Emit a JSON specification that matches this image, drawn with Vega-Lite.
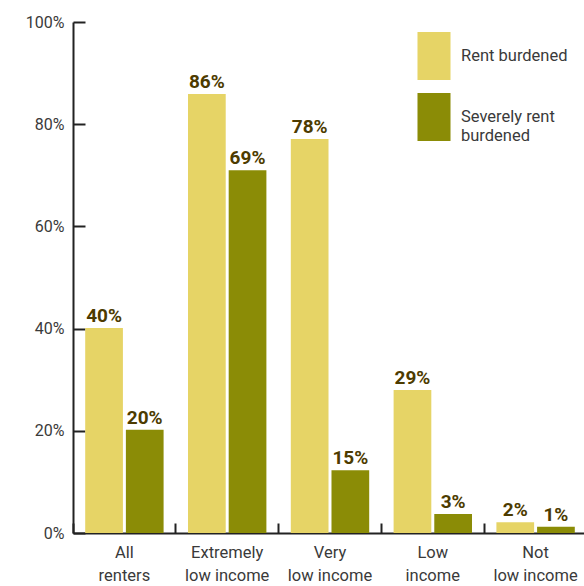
{
  "$schema": "https://vega.github.io/schema/vega-lite/v6.json",
  "width": 514,
  "height": 511,
  "autosize": {"type": "none"},
  "padding": {"left": 73, "top": 22, "right": 0, "bottom": 53},
  "background": "white",
  "config": {"view": {"stroke": null}, "font": "Roboto"},
  "data": {
    "values": [
      {"group": "All renters", "type": "Rent burdened", "value": 40.1, "label": "40%"},
      {"group": "All renters", "type": "Severely rent burdened", "value": 20.2, "label": "20%"},
      {"group": "Extremely low income", "type": "Rent burdened", "value": 85.9, "label": "86%"},
      {"group": "Extremely low income", "type": "Severely rent burdened", "value": 71.0, "label": "69%"},
      {"group": "Very low income", "type": "Rent burdened", "value": 77.1, "label": "78%"},
      {"group": "Very low income", "type": "Severely rent burdened", "value": 12.3, "label": "15%"},
      {"group": "Low income", "type": "Rent burdened", "value": 28.0, "label": "29%"},
      {"group": "Low income", "type": "Severely rent burdened", "value": 3.7, "label": "3%"},
      {"group": "Not low income", "type": "Rent burdened", "value": 2.1, "label": "2%"},
      {"group": "Not low income", "type": "Severely rent burdened", "value": 1.2, "label": "1%"}
    ]
  },
  "encoding": {
    "x": {
      "field": "group",
      "type": "nominal",
      "sort": null,
      "scale": {"paddingInner": 0, "paddingOuter": 0},
      "axis": {
        "title": null,
        "labelAngle": 0,
        "labelFontSize": 16.5,
        "labelColor": "#3a3a3a",
        "labelLineHeight": 23,
        "labelPadding": 21,
        "labelBaseline": "top",
        "bandPosition": 0,
        "tickSize": -10,
        "tickWidth": 2,
        "tickColor": "#222222",
        "domainColor": "#222222",
        "domainWidth": 2,
        "labelExpr": "datum.value == 'All renters' ? ['All','renters'] : datum.value == 'Extremely low income' ? ['Extremely','low income'] : datum.value == 'Very low income' ? ['Very','low income'] : datum.value == 'Low income' ? ['Low','income'] : ['Not','low income']"
      }
    },
    "xOffset": {
      "field": "type",
      "type": "nominal",
      "scale": {"paddingInner": 0.073, "paddingOuter": 0.3}
    }
  },
  "layer": [
    {
      "mark": {"type": "bar"},
      "encoding": {
        "y": {
          "field": "value",
          "type": "quantitative",
          "scale": {"domain": [0, 100], "nice": false},
          "axis": {
            "title": null,
            "values": [0, 20, 40, 60, 80, 100],
            "labelExpr": "datum.value + '%'",
            "labelFontSize": 16,
            "labelColor": "#3a3a3a",
            "labelPadding": 21,
            "tickSize": -12,
            "tickWidth": 2,
            "tickColor": "#222222",
            "domainColor": "#222222",
            "domainWidth": 2,
            "grid": false
          }
        },
        "color": {
          "field": "type",
          "type": "nominal",
          "scale": {"domain": ["Rent burdened", "Severely rent burdened"], "range": ["#e6d466", "#8b8c06"]},
          "legend": {
            "title": null,
            "orient": "none",
            "legendX": 337,
            "legendY": 10,
            "symbolType": "M-0.688,-1H0.688V1H-0.688Z",
            "symbolSize": 2304,
            "symbolStrokeWidth": 0,
            "rowPadding": 13,
            "labelOffset": 3,
            "labelFontSize": 16.5,
            "labelColor": "#3a3a3a",
            "labelLimit": 300,
            "labelLineHeight": 23,
            "labelExpr": "datum.label == 'Severely rent burdened' ? ['Severely rent', 'burdened'] : datum.label"
          }
        }
      }
    },
    {
      "mark": {"type": "text", "baseline": "alphabetic", "dy": -6, "fontSize": 19, "fontWeight": "bold", "color": "#4d3b00"},
      "encoding": {
        "y": {"field": "value", "type": "quantitative"},
        "text": {"field": "label"}
      }
    }
  ]
}
